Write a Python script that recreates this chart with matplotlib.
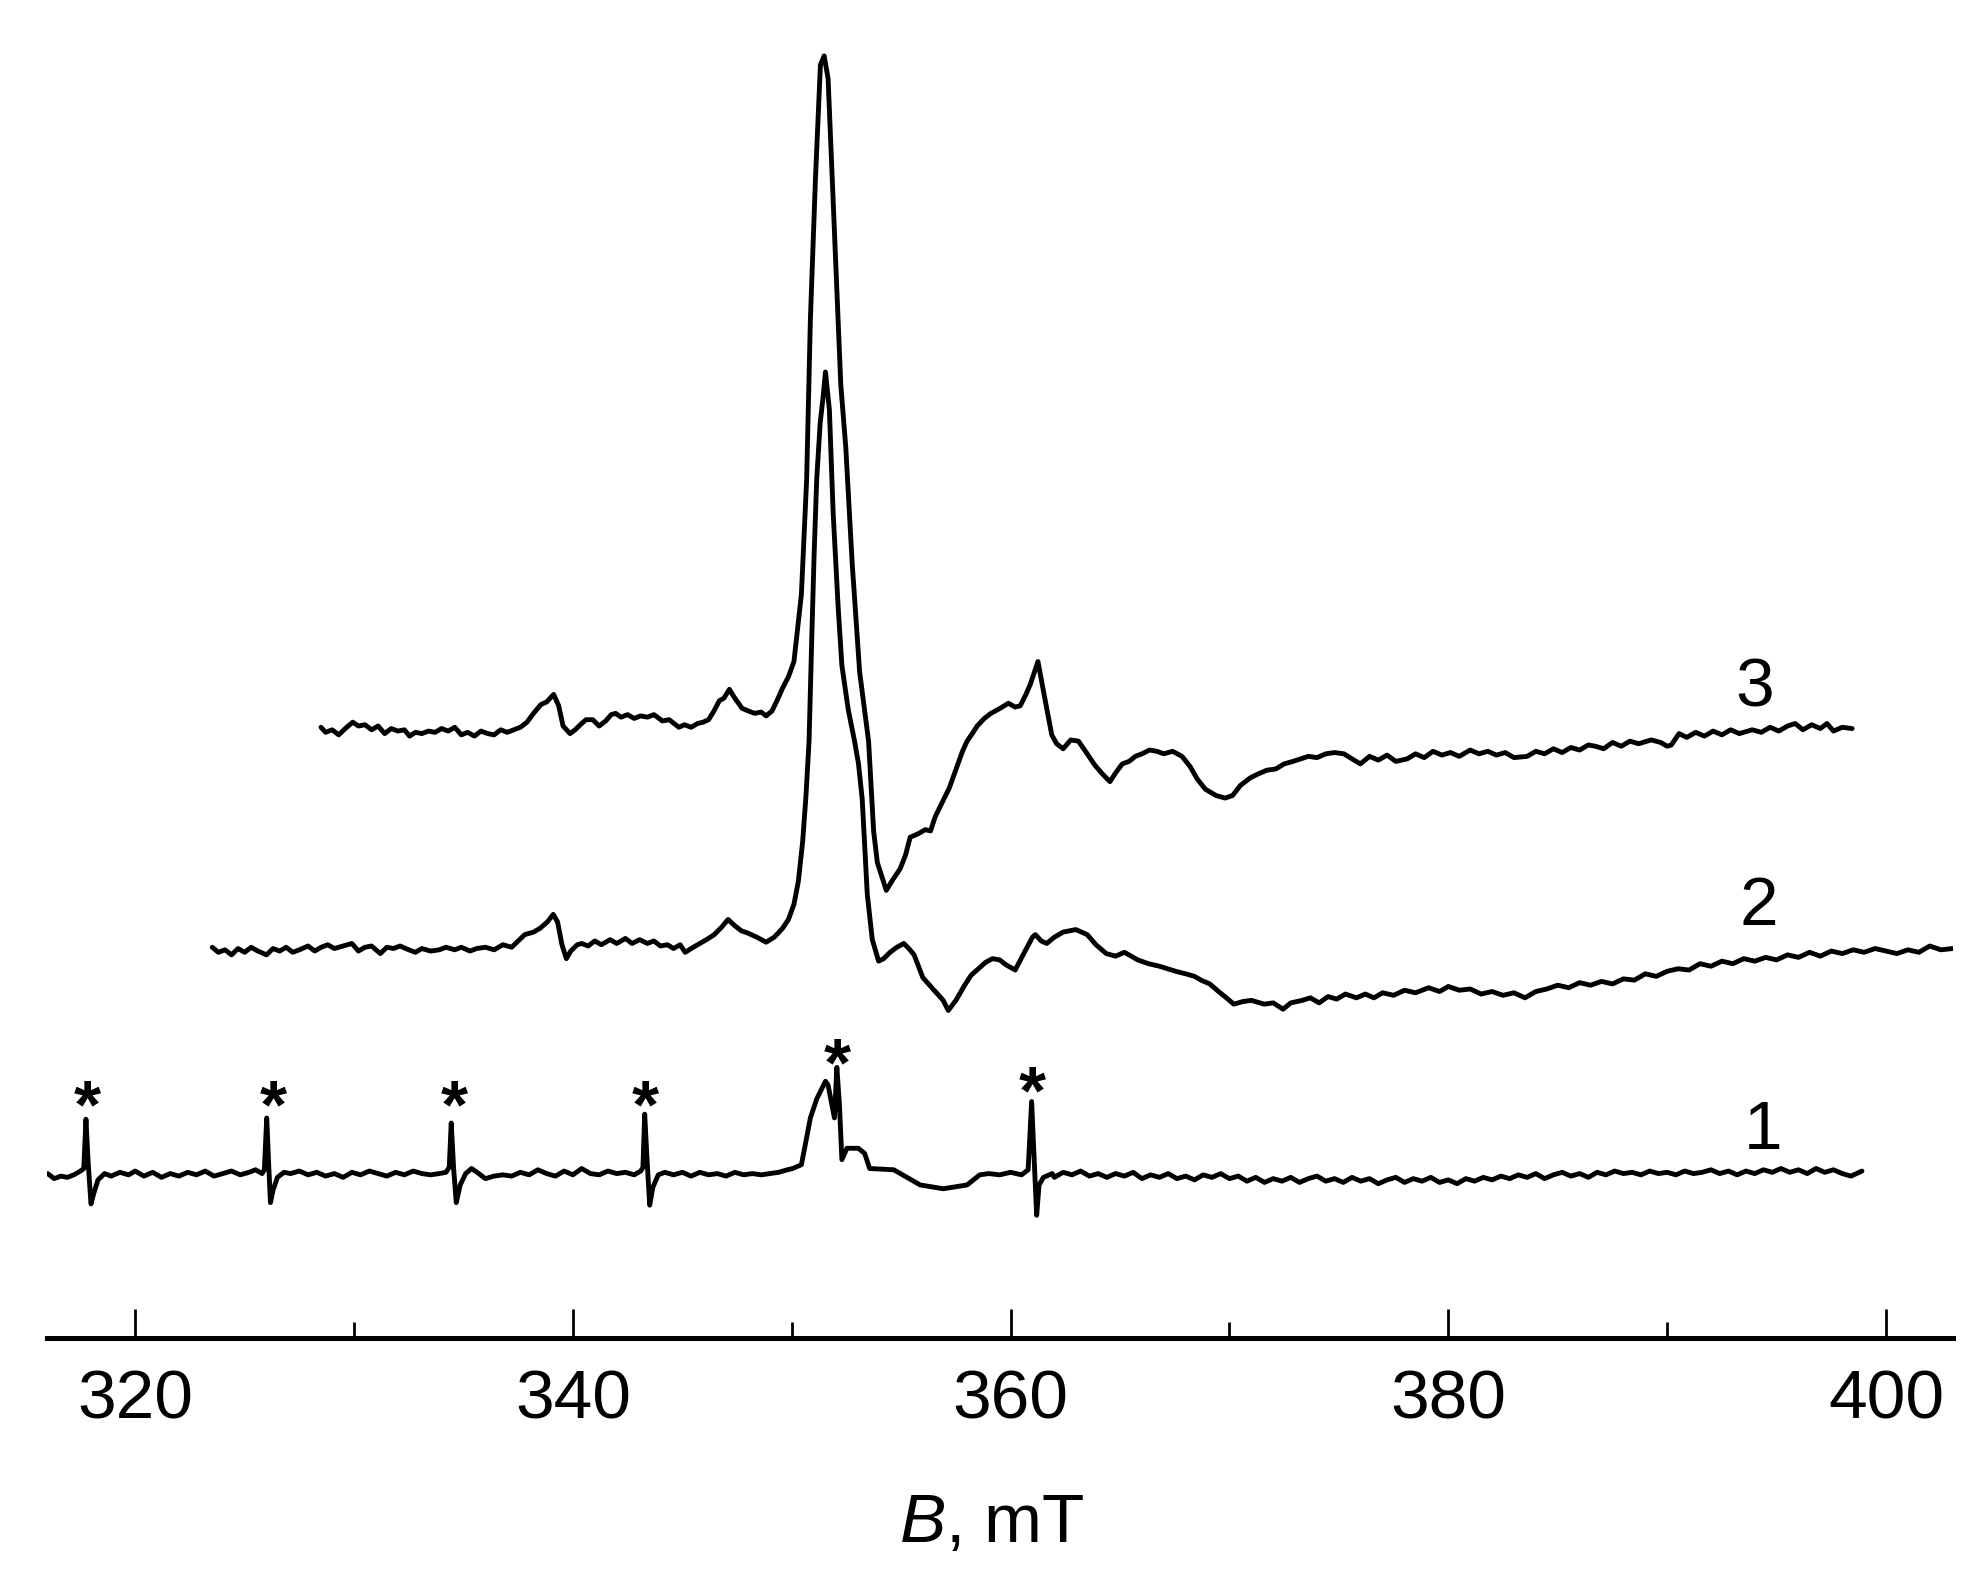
import matplotlib
matplotlib.use("Agg")
import matplotlib.pyplot as plt
import matplotlib.transforms as mtransforms

plt.rcParams['font.family'] = ['Liberation Sans', 'DejaVu Sans']
plt.rcParams['mathtext.fontset'] = 'custom'
plt.rcParams['mathtext.it'] = 'Liberation Sans:italic'
plt.rcParams['mathtext.rm'] = 'Liberation Sans'

# ---------------- data (field B in mT, intensity in arbitrary units) ----------------
b1 = [316.0, 316.3, 316.6, 316.9, 317.2, 317.5, 317.65, 317.75, 317.85, 317.98, 318.1, 318.3, 318.6,
      318.9, 319.3, 319.7, 320.0, 320.4, 320.8, 321.2, 321.6, 322.0, 322.4, 322.8, 323.2, 323.6, 324.0,
      324.4, 324.8, 325.2, 325.5, 325.8,
      325.9, 326.01, 326.1, 326.18, 326.3, 326.5, 326.8,
      327.1, 327.5, 327.9, 328.3, 328.7, 329.1, 329.5, 329.9, 330.3, 330.7, 331.1, 331.5, 331.9, 332.3,
      332.7, 333.1, 333.5, 333.9, 334.2,
      334.35, 334.44, 334.55, 334.67, 334.85, 335.1, 335.37, 335.7, 336.0, 336.4,
      336.8, 337.2, 337.6, 338.0, 338.4, 338.8, 339.2, 339.6, 340.0, 340.4, 340.8, 341.2, 341.6, 342.0,
      342.4, 342.8, 343.1,
      343.2, 343.28, 343.4, 343.51, 343.65, 343.9, 344.2,
      344.6, 345.0, 345.4, 345.8, 346.2, 346.6, 347.0, 347.4, 347.8, 348.2, 348.6, 349.0, 349.4, 349.8,
      350.04, 350.44, 350.62, 350.85, 351.14, 351.54, 351.66, 351.95, 352.06, 352.18, 352.29, 352.52,
      353.04, 353.33, 353.56, 354.66, 355.87, 356.92, 358.01, 358.59,
      359.0, 359.5, 360.0, 360.5, 360.8,
      360.96, 361.08, 361.19, 361.3, 361.5, 361.9,
      362.0, 362.4, 362.8, 363.2, 363.6, 364.0, 364.4, 364.8, 365.2, 365.6, 366.0, 366.4, 366.8, 367.2,
      367.6, 368.0, 368.4, 368.8, 369.2, 369.6, 370.0, 370.4, 370.8, 371.2, 371.6, 372.0, 372.4, 372.8,
      373.2, 373.6, 374.0, 374.4, 374.8, 375.2, 375.6, 376.0, 376.4, 376.8, 377.2, 377.6, 378.0, 378.4,
      378.8, 379.2, 379.6, 380.0, 380.4, 380.8, 381.2, 381.6, 382.0, 382.4, 382.8, 383.2, 383.6, 384.0,
      384.4, 384.8, 385.2, 385.6, 386.0, 386.4, 386.8, 387.2, 387.6, 388.0, 388.4, 388.8, 389.2, 389.6,
      390.0, 390.4, 390.8, 391.2, 391.6, 392.0, 392.4, 392.8, 393.2, 393.6, 394.0, 394.4, 394.8, 395.2,
      395.6, 396.0, 396.4, 396.8, 397.2, 397.6, 398.0, 398.4, 398.9]
i1 = [1, -3, -1, -2, 0, 3, 5, 44, 10, -23, -15, -4, 1,
      -1, 2, 0, 3, -1, 2, -2, 1, -1, 2, 0, 3, -1, 1,
      3, 0, 2, 4, 1,
      4, 45, 8, -22, -12, -2, 2,
      1, 3, 0, 2, -1, 1, -2, 2, 0, 3, 1, -1, 2, 0,
      3, 1, 0, 1, 2,
      6, 41, 5, -22, -8, 1, 5, 1, -3, -1,
      0, -1, 2, 0, 4, 1, -1, 3, 0, 5, 1, 0, 3, 1,
      2, 0, 3,
      6, 48, 8, -24, -10, 0, 2,
      0, 2, -1, 2, 0, 1, -1, 2, 0, 1, 0, 1, 2, 4,
      5, 8, 24, 45, 60, 74, 71, 45, 85, 55, 12, 21,
      21, 17, 5, 4, -8, -11, -8, 0,
      1, 0, 2, 0, 4,
      58, 10, -32, -8, -2, 1,
      -2, 2, 0, 3, -1, 1, -2, 1, -1, 2, -3, 0, -2, 1,
      -3, -1, -4, 0, -2, 1, -3, -1, -5, -2, -6, -3, -5, -2,
      -6, -3, -1, -5, -3, -6, -2, -5, -3, -7, -4, -2, -6, -3,
      -5, -2, -6, -4, -7, -3, -5, -2, -4, -1, -3, 0, -2, 1,
      -3, 0, 2, -1, 1, -2, 2, 0, 3, 1, 2, 0, 3, 1,
      2, 0, 3, 1, 2, 4, 1, 3, 0, 3, 1, 4, 2, 5,
      2, 4, 1, 5, 2, 4, 1, -1, 3]

b2 = [323.52, 323.8, 324.1, 324.4, 324.7, 325.0, 325.3, 325.6, 326.0, 326.3, 326.6, 326.9, 327.2,
      327.5, 327.9, 328.2, 328.5, 328.8, 329.1, 329.5, 329.9, 330.2, 330.5, 330.8, 331.2, 331.5, 331.8,
      332.1, 332.5, 332.8, 333.1, 333.5, 333.9, 334.2, 334.6, 334.9, 335.3, 335.6, 336.0, 336.4, 336.8,
      337.2, 337.5, 337.8, 338.2, 338.5, 338.83, 339.1, 339.3, 339.5, 339.7, 339.9, 340.2, 340.4, 340.7,
      341.0, 341.3, 341.7, 342.0, 342.4, 342.7, 343.05, 343.4, 343.7, 344.0, 344.32, 344.6, 344.9,
      345.13, 345.5, 345.8, 346.1, 346.46, 346.8, 347.09, 347.4, 347.7, 348.02, 348.4, 348.83, 349.2,
      349.58, 349.85, 350.1, 350.3, 350.5, 350.65, 350.79, 350.91, 351.02, 351.14, 351.3, 351.43,
      351.54, 351.63, 351.72, 351.89, 352.12, 352.29, 352.58, 352.87, 353.05, 353.22, 353.35, 353.45,
      353.68, 353.97, 354.2, 354.49, 354.8, 355.12, 355.35, 355.59, 355.99, 356.4, 356.92, 357.15,
      357.5, 357.9, 358.2, 358.53, 358.85, 359.17, 359.5, 359.8, 360.21, 360.6, 361.0, 361.13, 361.4,
      361.65, 362.0, 362.4, 362.98, 363.5, 363.9, 364.37, 364.8, 365.2, 365.81, 366.3, 366.8, 367.54,
      368.0, 368.4, 368.7, 369.1, 369.5, 369.86, 370.2, 370.6, 371.0, 371.59, 372.0, 372.45, 372.8,
      373.32, 373.7, 374.1, 374.5, 374.9, 375.3, 375.8, 376.21, 376.6, 377.0, 377.5, 378.0, 378.5,
      379.1, 379.6, 380.0, 380.5, 381.0, 381.5, 382.0, 382.5, 383.0, 383.5, 384.0, 384.5, 385.0,
      385.5, 386.0, 386.5, 387.0, 387.5, 388.0, 388.5, 389.0, 389.5, 390.0, 390.5, 391.0, 391.5,
      392.0, 392.5, 393.0, 393.5, 394.0, 394.5, 395.0, 395.5, 396.0, 396.5, 397.0, 397.5, 398.0,
      398.5, 399.0, 399.5, 400.0, 400.5, 401.0, 401.5, 402.0, 402.5, 403.05]
i2 = [0, -4, -2, -6, -1, -4, 0, -3, -6, -1, -3, 0, -4,
      -2, 1, -3, 0, 2, -1, 1, 3, -3, 0, 1, -5, 0, -1,
      1, -2, -4, -1, -3, -2, 0, -2, 0, -3, -1, 0, -2, 2,
      0, 5, 10, 12, 15, 20, 26, 20, 2, -9, -3, 2, 3, 1,
      5, 2, 6, 3, 7, 3, 6, 3, 5, 1, 2, -1, 2,
      -4, 0, 3, 6, 10, 16, 22, 17, 13, 11, 8, 4, 8,
      15, 22, 34, 52, 84, 120, 163, 242, 310, 370, 415, 435,
      455, 440, 425, 344, 269, 223, 188, 163, 145, 117, 75, 42,
      6, -11, -9, -4, 0, 3, -1, -6, -24, -32, -42, -50,
      -42, -30, -22, -17, -12, -9, -10, -14, -18, -5, 8, 10, 5,
      3, 8, 12, 14, 10, 2, -5, -7, -4, -10, -13, -15, -19,
      -21, -23, -26, -29, -35, -40, -45, -43, -42, -45, -44, -49, -44,
      -42, -40, -44, -39, -41, -37, -40, -37, -40, -36, -38, -34, -36,
      -32, -35, -31, -34, -33, -37, -35, -38, -36, -40, -35, -33, -30,
      -32, -28, -30, -27, -29, -25, -26, -21, -23, -19, -17, -18, -13,
      -15, -11, -13, -9, -11, -8, -10, -6, -8, -4, -7, -3, -5,
      -2, -4, -1, -3, -5, -2, -4, 1, -2, -1]

b3 = [328.49, 328.7, 329.0, 329.3, 329.6, 329.94, 330.2, 330.5, 330.8, 331.1, 331.4, 331.7, 332.0,
      332.3, 332.54, 332.8, 333.1, 333.4, 333.7, 334.0, 334.3, 334.6, 334.9, 335.19, 335.5, 335.8,
      336.1, 336.4, 336.7, 337.0, 337.3, 337.6, 337.9, 338.2, 338.54, 338.8, 339.12, 339.35, 339.55,
      339.87, 340.1, 340.4, 340.6, 340.91, 341.2, 341.5, 341.75, 341.95, 342.2, 342.5, 342.8, 343.1,
      343.4, 343.7, 344.09, 344.4, 344.84, 345.1, 345.4, 345.7, 345.94, 346.2, 346.45, 346.69, 346.9,
      347.15, 347.4, 347.73, 348.0, 348.3, 348.6, 348.83, 349.1, 349.35, 349.58, 349.85, 350.1,
      350.21, 350.44, 350.68, 350.85, 351.08, 351.31, 351.48, 351.66, 352.0, 352.24, 352.47, 352.76,
      353.1, 353.51, 353.74, 353.91, 354.32, 354.6, 354.95, 355.2, 355.41, 355.8, 356.1, 356.34,
      356.55, 356.8, 357.2, 357.55, 357.8, 358.01, 358.25, 358.47, 358.8, 359.1, 359.52, 359.9,
      360.2, 360.44, 360.7, 360.9, 361.25, 361.55, 361.88, 362.1, 362.4, 362.75, 363.1, 363.5,
      363.85, 364.2, 364.54, 364.8, 365.1, 365.41, 365.7, 366.0, 366.35, 366.68, 367.0, 367.4,
      367.83, 368.2, 368.53, 368.9, 369.39, 369.8, 370.14, 370.5, 370.95, 371.3, 371.7, 372.11,
      372.5, 372.9, 373.26, 373.6, 374.0, 374.4, 374.8, 375.23, 375.6, 375.98, 376.4, 376.8, 377.2,
      377.6, 378.12, 378.5, 378.9, 379.3, 379.7, 380.1, 380.5, 381.0, 381.4, 381.8, 382.2, 382.6,
      383.0, 383.6, 384.0, 384.4, 384.8, 385.2, 385.6, 386.0, 386.4, 386.72, 387.1, 387.5, 387.9,
      388.3, 388.7, 389.27, 389.7, 390.0, 390.19, 390.54, 390.9, 391.3, 391.7, 392.1, 392.5, 392.9,
      393.3, 393.89, 394.3, 394.7, 395.1, 395.5, 395.85, 396.2, 396.6, 397.0, 397.3, 397.6, 398.0,
      398.45]
i3 = [1, -3, -1, -5, 0, 5, 2, 3, -1, 2, -4, 0, -2,
      -1, -6, -3, -4, -2, -3, 0, -2, 1, -5, -3, -6, -2,
      -4, -5, -1, -3, -1, 1, 5, 12, 19, 21, 27, 18, 2,
      -4, -1, 4, 7, 7, 2, 6, 11, 12, 9, 11, 8, 10,
      9, 11, 6, 7, 1, 3, 1, 4, 5, 7, 14, 22, 24,
      31, 24, 16, 14, 12, 13, 10, 14, 23, 32, 41, 53,
      70, 106, 197, 323, 434, 525, 532, 514, 373, 272, 222, 131,
      45, -10, -81, -106, -128, -120, -111, -100, -86, -83, -80, -81,
      -70, -61, -47, -30, -18, -10, -4, 2, 8, 12, 16, 20,
      17, 18, 27, 35, 53, 25, -5, -12, -16, -9, -10, -20,
      -29, -36, -42, -35, -28, -26, -22, -20, -17, -18, -20, -18,
      -22, -30, -40, -48, -53, -55, -53, -45, -39, -36, -33, -32,
      -28, -26, -24, -22, -23, -20, -19, -20, -24, -28, -22, -25, -21,
      -26, -24, -20, -23, -18, -21, -19, -22, -17, -20, -18, -21, -19,
      -23, -22, -18, -20, -16, -19, -15, -17, -13, -14, -16, -11, -14,
      -10, -12, -9, -11, -14, -13, -4, -7, -3, -6, -2, -5, -1,
      -4, -1, -3, 1, -2, 2, 4, -1, 3, 0, 4, -2, 1,
      0]

offsets = [129, 309, 482]          # vertical stacking of spectra 1, 2, 3
curve_labels = ['1', '2', '3']
label_B = [394.4, 394.2, 394.0]
label_y = [150, 327, 500]          # baseline of the curve numbers

star_B = [317.8, 326.3, 334.6, 343.3, 352.06, 361.0]
star_y = [200, 200, 200, 200, 233, 211]   # centre of the asterisks

xticks_major = [320, 340, 360, 380, 400]
xticks_minor = [330, 350, 370, 390]

# ---------------- figure ----------------
W, H = 1982, 1582
fig = plt.figure(figsize=(W / 100, (H + 0.4) / 100), dpi=100)
ax = fig.add_axes([47 / W, (H - 1338) / H, (1953 - 47) / W, 1338 / H])

lw = 3.5
for b, i, off in zip([b1, b2, b3], [i1, i2, i3], offsets):
    ax.plot(b, [v + off for v in i], color='black', lw=lw,
            solid_joinstyle='round', solid_capstyle='round')

FS = 50
for lab, bx, by in zip(curve_labels, label_B, label_y):
    ax.text(bx, by, lab, fontsize=FS, ha='center', va='baseline')

star_off = mtransforms.offset_copy(ax.transData, fig=fig, x=0, y=-0.60 * FS, units='points')
for bx, by in zip(star_B, star_y):
    ax.text(bx, by, '*', fontsize=FS, fontweight='bold', ha='center', va='baseline',
            transform=star_off)

ax.set_xlim(315.97, 403.06)
ax.set_ylim(0, 1338 / 1.264)

for s in ['left', 'right', 'top']:
    ax.spines[s].set_visible(False)
ax.spines['bottom'].set_linewidth(3.6)
ax.set_yticks([])
ax.set_xticks(xticks_major)
ax.set_xticks(xticks_minor, minor=True)
ax.tick_params(axis='x', which='major', direction='in', length=21, width=2.0,
               labelsize=FS, pad=22)
ax.tick_params(axis='x', which='minor', direction='in', length=11.5, width=2.0)

ax.set_xlabel(r'$\it{B}$, mT', fontsize=FS)
ax.xaxis.set_label_coords((992 - 47) / 1906, -(1524 - 1338) / 1338)
ax.xaxis.label.set_va('center')

fig.savefig('out.png', dpi=100)
